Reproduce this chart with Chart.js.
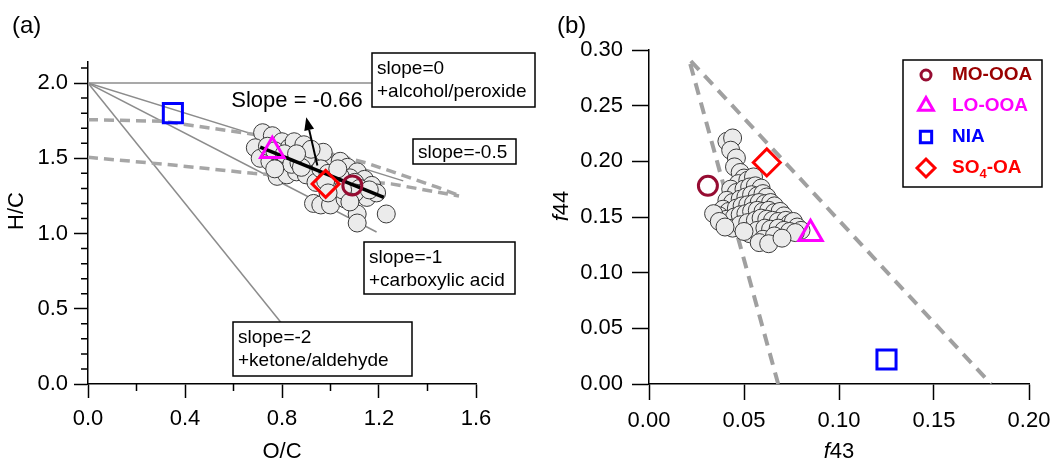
<!DOCTYPE html>
<html>
<head>
<meta charset="utf-8">
<script src="https://cdn.jsdelivr.net/npm/chart.js@4.4.0/dist/chart.umd.min.js"></script>
<style>
  html, body { margin: 0; padding: 0; background: #fff; }
  #wrap { position: relative; width: 1061px; height: 463px; }
  #boxA { position: absolute; left: 0; top: 0; width: 545px; height: 463px; }
  #boxB { position: absolute; left: 545px; top: 0; width: 516px; height: 463px; }
</style>
</head>
<body>
<div id="wrap">
  <div id="boxA"><canvas id="chartA"></canvas></div>
  <div id="boxB"><canvas id="chartB"></canvas></div>
</div>
<script>
// ---- panel (a): Van Krevelen diagram ----
const ocMinorTicks = [0.2, 0.6, 1.0, 1.4];
const hcMinorTicks = [0.1, 0.2, 0.3, 0.4, 0.6, 0.7, 0.8, 0.9, 1.1, 1.2, 1.3, 1.4, 1.6, 1.7, 1.8, 1.9, 2.1];

const samplesOC = [0.72, 0.69, 0.71, 0.76, 0.80, 0.83, 0.85, 0.89, 0.75, 0.79, 0.83, 0.88, 0.91, 0.94, 0.96, 1.00,
  0.97, 0.93, 0.78, 0.82, 0.86, 0.90, 0.94, 0.96, 1.02, 1.04, 1.07, 1.11, 1.14, 1.17, 1.08, 1.06, 1.02, 0.93, 0.96,
  1.00, 1.06, 1.11, 1.11, 1.23, 0.74, 0.77, 0.81, 0.84, 0.87, 0.90, 0.99, 1.01, 1.04, 1.10, 1.12, 1.13, 1.15, 1.19,
  1.10, 0.98, 0.88, 1.05, 1.16, 1.03, 0.92, 0.86, 0.77, 0.99, 1.08];
const samplesHC = [1.67, 1.57, 1.50, 1.65, 1.61, 1.57, 1.61, 1.59, 1.48, 1.46, 1.50, 1.51, 1.45, 1.52, 1.47, 1.45,
  1.54, 1.39, 1.38, 1.39, 1.41, 1.39, 1.34, 1.43, 1.41, 1.48, 1.44, 1.41, 1.36, 1.32, 1.37, 1.34, 1.31, 1.20, 1.19,
  1.19, 1.23, 1.13, 1.07, 1.13, 1.58, 1.55, 1.53, 1.46, 1.47, 1.50, 1.40, 1.36, 1.38, 1.34, 1.30, 1.27, 1.24, 1.27,
  1.27, 1.35, 1.44, 1.29, 1.29, 1.43, 1.56, 1.53, 1.43, 1.27, 1.21];

const factorNames = ['MO-OOA', 'LO-OOA', 'NIA', 'SO4-OA'];
const factorColors = ['#960c32', '#ff00ff', '#0000ff', '#ff0000'];
const factorTextColors = ['#990000', '#ff00ff', '#0000ff', '#ff0000'];
const factorStyles = ['circle', 'triangle', 'rect', 'rectRot'];
const factorOC = [1.09, 0.76, 0.35, 0.98];
const factorHC = [1.32, 1.55, 1.80, 1.33];

const slope0OC = [0, 1.17], slope0HC = [2, 2];
const slope05OC = [0, 1.30], slope05HC = [2, 1.35];
const slope1OC = [0, 1.19], slope1HC = [2, 1.01];
const slope2OC = [0, 0.80], slope2HC = [2, 0.40];
const upperBoundOC = [0, 0.31, 0.68, 1.025, 1.15, 1.26, 1.44, 1.53];
const upperBoundHC = [1.757, 1.746, 1.66, 1.52, 1.468, 1.408, 1.308, 1.253];
const lowerBoundOC = [0, 0.35, 0.68, 1.0, 1.25, 1.53];
const lowerBoundHC = [1.507, 1.455, 1.40, 1.365, 1.33, 1.25];
const fitOC = [0.71, 1.22], fitHC = [1.574, 1.24];
const arrowOC = [0.946, 0.90], arrowHC = [1.452, 1.773];

// ---- panel (b): f44 vs f43 ----
const samplesF43 = [0.041, 0.044, 0.043, 0.046, 0.045, 0.048, 0.050, 0.047, 0.052, 0.055, 0.043, 0.046, 0.050, 0.053,
  0.056, 0.059, 0.041, 0.044, 0.048, 0.051, 0.054, 0.057, 0.060, 0.062, 0.039, 0.042, 0.046, 0.049, 0.052, 0.055,
  0.058, 0.061, 0.064, 0.066, 0.037, 0.041, 0.045, 0.048, 0.051, 0.054, 0.057, 0.060, 0.063, 0.066, 0.069, 0.071,
  0.044, 0.048, 0.052, 0.056, 0.059, 0.062, 0.065, 0.068, 0.072, 0.074, 0.076, 0.078, 0.080, 0.053, 0.057, 0.061,
  0.064, 0.068, 0.071, 0.060, 0.066, 0.074, 0.077, 0.034, 0.037, 0.040, 0.058, 0.063, 0.050, 0.070];
const samplesF44 = [0.218, 0.221, 0.210, 0.203, 0.195, 0.190, 0.185, 0.180, 0.183, 0.186, 0.175, 0.172, 0.175, 0.177,
  0.178, 0.176, 0.165, 0.163, 0.166, 0.168, 0.170, 0.169, 0.171, 0.168, 0.157, 0.155, 0.158, 0.160, 0.161, 0.162,
  0.163, 0.162, 0.163, 0.160, 0.151, 0.148, 0.150, 0.152, 0.153, 0.155, 0.156, 0.155, 0.156, 0.154, 0.155, 0.151,
  0.140, 0.143, 0.145, 0.147, 0.149, 0.148, 0.147, 0.146, 0.147, 0.144, 0.146, 0.141, 0.138, 0.135, 0.138, 0.140,
  0.139, 0.140, 0.138, 0.130, 0.133, 0.137, 0.136, 0.153, 0.146, 0.141, 0.127, 0.126, 0.137, 0.131];
const factorF43 = [0.031, 0.085, 0.125, 0.062];
const factorF44 = [0.178, 0.135, 0.022, 0.199];
const triangleF43 = [0.068, 0.021, 0.18];
const triangleF44 = [0, 0.292, 0];

const FONT = '"Liberation Sans", Arial, Helvetica, sans-serif';
const pts = (xs, ys) => xs.map((x, i) => ({ x: x, y: ys[i] }));
const markerRadius = { circle: 9.5, triangle: 13.5, rect: 13.5, rectRot: 13.5 };

function factorSets(xs, ys) {
  return factorNames.map((name, i) => ({
    label: name,
    data: [{ x: xs[i], y: ys[i] }],
    pointStyle: factorStyles[i],
    pointRadius: markerRadius[factorStyles[i]],
    pointBorderWidth: 3,
    pointBorderColor: factorColors[i],
    pointBackgroundColor: 'rgba(0,0,0,0)',
    order: 1
  }));
}

function lineSet(xs, ys, color, width, dash, order) {
  return {
    data: pts(xs, ys),
    showLine: true,
    pointRadius: 0,
    borderColor: color,
    borderWidth: width,
    borderDash: dash || [],
    order: order
  };
}

function cloudSet(xs, ys) {
  return {
    data: pts(xs, ys),
    pointRadius: 9,
    pointBorderWidth: 1,
    pointBorderColor: '#3a3a3a',
    pointBackgroundColor: '#ebebeb',
    order: 3
  };
}

function axis(min, max, step, digits, tickLen, pad, fit) {
  return {
    type: 'linear',
    min: min,
    max: max,
    bounds: 'data',
    border: { display: true, color: '#000', width: 1.5 },
    grid: { drawOnChartArea: false, drawTicks: true, tickLength: tickLen, tickColor: '#000', tickWidth: 1.5 },
    ticks: {
      stepSize: step,
      includeBounds: false,
      padding: pad,
      color: '#000',
      font: { family: FONT, size: 22 },
      maxRotation: 0,
      autoSkip: false,
      callback: v => v.toFixed(digits)
    },
    afterFit: fit
  };
}

// minor ticks and axis titles
function decorations(minorX, minorY, titles) {
  return {
    id: 'decorations',
    afterDraw(chart) {
      const { ctx, chartArea, scales: { x, y } } = chart;
      ctx.save();
      ctx.strokeStyle = '#000';
      ctx.lineWidth = 1.5;
      ctx.beginPath();
      minorX.forEach(v => {
        const px = x.getPixelForValue(v);
        ctx.moveTo(px, chartArea.bottom);
        ctx.lineTo(px, chartArea.bottom + 7);
      });
      minorY.forEach(v => {
        const py = y.getPixelForValue(v);
        ctx.moveTo(chartArea.left, py);
        ctx.lineTo(chartArea.left - 7, py);
      });
      ctx.stroke();

      ctx.fillStyle = '#000';
      ctx.textBaseline = 'middle';
      titles.forEach(t => {
        ctx.save();
        ctx.translate(t.x, t.y);
        if (t.rotate) ctx.rotate(-Math.PI / 2);
        const parts = t.parts;
        let total = 0;
        parts.forEach(p => { ctx.font = p.font; total += ctx.measureText(p.text).width; });
        let cx = -total / 2;
        ctx.textAlign = 'left';
        parts.forEach(p => {
          ctx.font = p.font;
          ctx.fillText(p.text, cx, 0);
          cx += ctx.measureText(p.text).width;
        });
        ctx.restore();
      });
      ctx.restore();
    }
  };
}

const plain = '22px ' + FONT;
const ital = 'italic 22px ' + FONT;

const notesA = {
  id: 'notesA',
  afterDatasetsDraw(chart) {
    const { ctx, scales: { x, y } } = chart;
    ctx.save();
    const boxes = [
      { x: 372, y: 53, w: 163, h: 54, lines: ['slope=0', '+alcohol/peroxide'] },
      { x: 413, y: 139, w: 103, h: 25, lines: ['slope=-0.5'] },
      { x: 364, y: 242, w: 151, h: 52, lines: ['slope=-1', '+carboxylic acid'] },
      { x: 233, y: 322, w: 179, h: 54, lines: ['slope=-2', '+ketone/aldehyde'] }
    ];
    ctx.lineWidth = 1.5;
    ctx.strokeStyle = '#000';
    ctx.font = '19px ' + FONT;
    ctx.textBaseline = 'middle';
    ctx.textAlign = 'left';
    boxes.forEach(b => {
      ctx.fillStyle = '#fff';
      ctx.fillRect(b.x, b.y, b.w, b.h);
      ctx.strokeRect(b.x, b.y, b.w, b.h);
      ctx.fillStyle = '#000';
      const first = b.lines.length === 1 ? b.y + b.h / 2 + 1 : b.y + 16;
      b.lines.forEach((t, i) => ctx.fillText(t, b.x + 5, first + i * 23));
    });

    ctx.font = '22px ' + FONT;
    ctx.textAlign = 'center';
    ctx.fillText('Slope = -0.66', 297, 101);

    // arrow normal to the fit line
    const x0 = x.getPixelForValue(arrowOC[0]), y0 = y.getPixelForValue(arrowHC[0]);
    const x1 = x.getPixelForValue(arrowOC[1]), y1 = y.getPixelForValue(arrowHC[1]);
    const ang = Math.atan2(y1 - y0, x1 - x0);
    const head = 13, half = 5;
    ctx.strokeStyle = '#000';
    ctx.fillStyle = '#000';
    ctx.lineWidth = 2;
    ctx.beginPath();
    ctx.moveTo(x0, y0);
    ctx.lineTo(x1 - Math.cos(ang) * head, y1 - Math.sin(ang) * head);
    ctx.stroke();
    ctx.beginPath();
    ctx.moveTo(x1, y1);
    ctx.lineTo(x1 - Math.cos(ang) * head - Math.sin(ang) * half, y1 - Math.sin(ang) * head + Math.cos(ang) * half);
    ctx.lineTo(x1 - Math.cos(ang) * head + Math.sin(ang) * half, y1 - Math.sin(ang) * head - Math.cos(ang) * half);
    ctx.closePath();
    ctx.fill();

    ctx.font = '24px ' + FONT;
    ctx.textAlign = 'left';
    ctx.fillText('(a)', 12, 26);
    ctx.restore();
  }
};

const legendB = {
  id: 'legendB',
  afterDatasetsDraw(chart) {
    const { ctx } = chart;
    ctx.save();
    ctx.lineWidth = 1.5;
    ctx.strokeStyle = '#000';
    ctx.fillStyle = '#fff';
    ctx.fillRect(358, 60, 139, 127);
    ctx.strokeRect(358, 60, 139, 127);
    const rows = [75, 106, 137, 168];
    const legendRadius = { circle: 5, triangle: 8.5, rect: 8, rectRot: 9 };
    factorNames.forEach((name, i) => {
      ctx.strokeStyle = factorColors[i];
      ctx.fillStyle = 'rgba(0,0,0,0)';
      ctx.lineWidth = 3;
      Chart.helpers.drawPoint(ctx, {
        pointStyle: factorStyles[i],
        radius: legendRadius[factorStyles[i]],
        rotation: 0,
        borderWidth: 3
      }, 381, rows[i]);
      ctx.fillStyle = factorTextColors[i];
      ctx.textBaseline = 'middle';
      ctx.textAlign = 'left';
      const bold = 'bold 19px ' + FONT;
      if (name === 'SO4-OA') {
        let cx = 407;
        ctx.font = bold;
        ctx.fillText('SO', cx, rows[i]);
        cx += ctx.measureText('SO').width;
        ctx.font = 'bold 13px ' + FONT;
        ctx.fillText('4', cx, rows[i] + 6);
        cx += ctx.measureText('4').width;
        ctx.font = bold;
        ctx.fillText('-OA', cx, rows[i]);
      } else {
        ctx.font = bold;
        ctx.fillText(name, 407, rows[i]);
      }
    });
    ctx.fillStyle = '#000';
    ctx.font = '24px ' + FONT;
    ctx.fillText('(b)', 12, 26);
    ctx.restore();
  }
};

Chart.defaults.font.family = FONT;

new Chart(document.getElementById('chartA'), {
  type: 'scatter',
  data: {
    datasets: [
      ...factorSets(factorOC, factorHC),
      lineSet(fitOC, fitHC, '#000', 3.5, null, 2),
      cloudSet(samplesOC, samplesHC),
      lineSet(upperBoundOC, upperBoundHC, '#a6a6a6', 3.5, [10, 6], 4),
      lineSet(lowerBoundOC, lowerBoundHC, '#a6a6a6', 3.5, [10, 6], 4),
      lineSet(slope0OC, slope0HC, '#8c8c8c', 1.5, null, 5),
      lineSet(slope05OC, slope05HC, '#8c8c8c', 1.5, null, 5),
      lineSet(slope1OC, slope1HC, '#8c8c8c', 1.5, null, 5),
      lineSet(slope2OC, slope2HC, '#8c8c8c', 1.5, null, 5)
    ]
  },
  options: {
    responsive: true,
    maintainAspectRatio: false,
    animation: false,
    layout: { padding: { top: 62, right: 69, left: 0, bottom: 0 } },
    plugins: { legend: { display: false }, tooltip: { enabled: false } },
    scales: {
      x: axis(0, 1.6, 0.4, 1, 14, 8, s => { s.height = 79; s.paddingLeft = 0; s.paddingRight = 0; }),
      y: axis(0, 2.14, 0.5, 1, 14, 6, s => { s.width = 88; s.paddingTop = 0; s.paddingBottom = 0; })
    }
  },
  plugins: [notesA, decorations(ocMinorTicks, hcMinorTicks, [
    { x: 282, y: 452, parts: [{ text: 'O/C', font: plain }] },
    { x: 17, y: 211, rotate: true, parts: [{ text: 'H/C', font: plain }] }
  ])]
});

new Chart(document.getElementById('chartB'), {
  type: 'scatter',
  data: {
    datasets: [
      ...factorSets(factorF43, factorF44),
      cloudSet(samplesF43, samplesF44),
      lineSet(triangleF43, triangleF44, '#a0a0a0', 4, [12, 8], 4)
    ]
  },
  options: {
    responsive: true,
    maintainAspectRatio: false,
    animation: false,
    layout: { padding: { top: 50, right: 32, left: 0, bottom: 0 } },
    plugins: { legend: { display: false }, tooltip: { enabled: false } },
    scales: {
      x: axis(0, 0.2, 0.05, 2, 16, 8, s => { s.height = 79; s.paddingLeft = 0; s.paddingRight = 0; }),
      y: axis(0, 0.3, 0.05, 2, 17, 9, s => { s.width = 104; s.paddingTop = 0; s.paddingBottom = 0; })
    }
  },
  plugins: [legendB, decorations([], [], [
    { x: 294, y: 452, parts: [{ text: 'f', font: ital }, { text: '43', font: plain }] },
    { x: 17, y: 206, rotate: true, parts: [{ text: 'f', font: ital }, { text: '44', font: plain }] }
  ])]
});
</script>
</body>
</html>
